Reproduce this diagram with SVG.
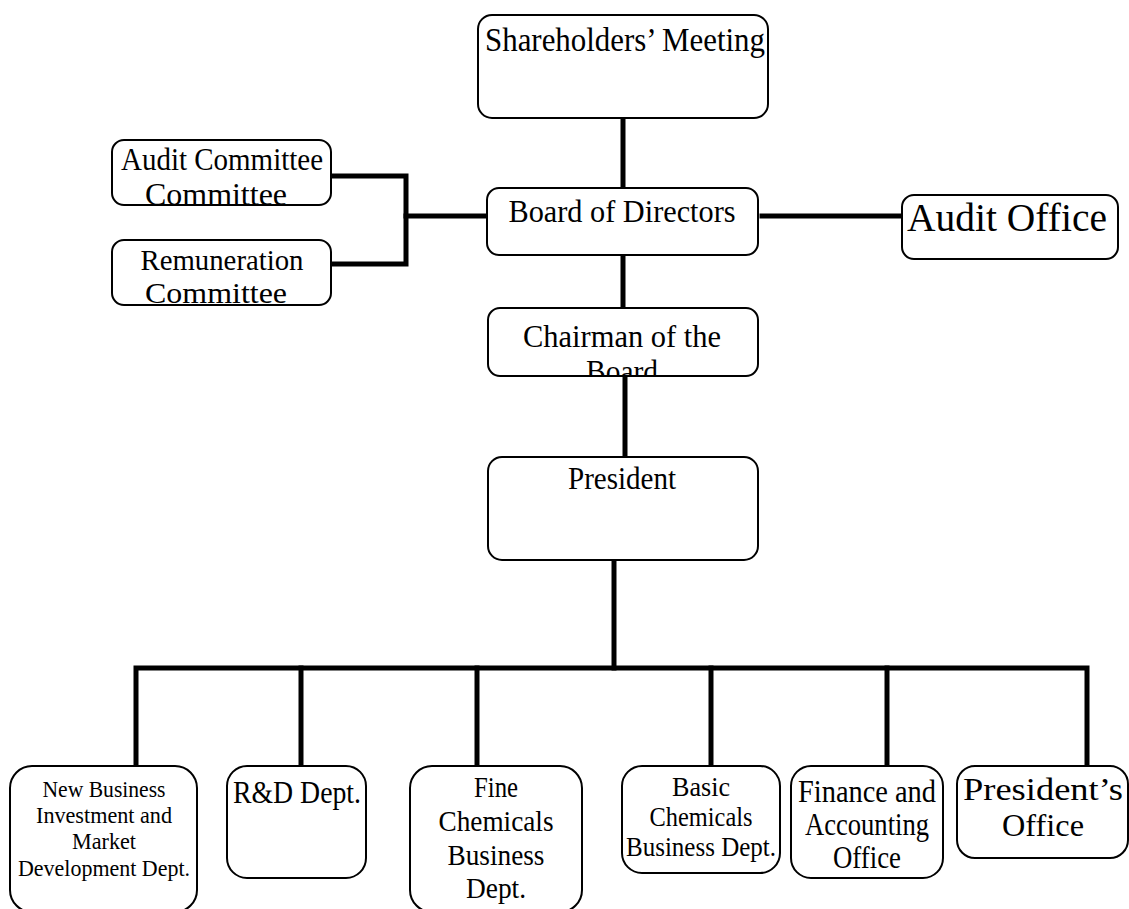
<svg xmlns="http://www.w3.org/2000/svg" width="1129" height="909" viewBox="0 0 1129 909">
<style>
.box{fill:#fff;stroke:#000;stroke-width:2}
.t{font-family:"Liberation Serif","Times New Roman",serif;fill:#000;text-anchor:middle}
.c{fill:none;stroke:#000;stroke-width:5;stroke-linecap:square}
</style>
<defs>
<clipPath id="clipAC"><rect x="112" y="140" width="219" height="64"/></clipPath>
<clipPath id="clipCH"><rect x="488" y="308" width="270" height="67"/></clipPath>
<clipPath id="clipRC"><rect x="112" y="240" width="219" height="64"/></clipPath>
</defs>
<g id="connectors">
<path class="c" d="M623 118V188"/>
<path class="c" d="M334 176H406V264H334"/>
<path class="c" d="M406 216H485"/>
<path class="c" d="M762 216H900"/>
<path class="c" d="M623 257V308"/>
<path class="c" d="M625 378V457"/>
<path class="c" d="M614 562V668"/>
<path class="c" d="M136 766V668H1087V766"/>
<path class="c" d="M301 668V766"/>
<path class="c" d="M477 668V766"/>
<path class="c" d="M711 668V766"/>
<path class="c" d="M887 668V766"/>
</g>
<g id="shareholders">
<rect class="box" x="478" y="15" width="290" height="103" rx="14"/>
<text class="t" x="625" y="51" font-size="33" textLength="280" lengthAdjust="spacingAndGlyphs">Shareholders’ Meeting</text>
</g>
<g id="audit-committee">
<rect class="box" x="112" y="140" width="219" height="65" rx="12"/>
<g clip-path="url(#clipAC)">
<text class="t" x="222" y="170" font-size="31" textLength="202" lengthAdjust="spacingAndGlyphs">Audit Committee</text>
<text class="t" x="216" y="205" font-size="31" textLength="142" lengthAdjust="spacingAndGlyphs">Committee</text>
</g>
</g>
<g id="remuneration-committee">
<rect class="box" x="112" y="240" width="219" height="65" rx="12"/>
<g clip-path="url(#clipRC)">
<text class="t" x="222" y="270" font-size="29" textLength="163" lengthAdjust="spacingAndGlyphs">Remuneration</text>
<text class="t" x="216" y="303" font-size="29" textLength="142" lengthAdjust="spacingAndGlyphs">Committee</text>
</g>
</g>
<g id="board">
<rect class="box" x="487" y="188" width="271" height="67" rx="12"/>
<text class="t" x="622" y="222" font-size="32" textLength="227" lengthAdjust="spacingAndGlyphs">Board of Directors</text>
</g>
<g id="audit-office">
<rect class="box" x="902" y="195" width="216" height="64" rx="12"/>
<text class="t" x="1007" y="231" font-size="41" textLength="200" lengthAdjust="spacingAndGlyphs">Audit Office</text>
</g>
<g id="chairman">
<rect class="box" x="488" y="308" width="270" height="68" rx="12"/>
<g clip-path="url(#clipCH)">
<text class="t" x="622" y="347" font-size="32" textLength="198" lengthAdjust="spacingAndGlyphs">Chairman of the</text>
<text class="t" x="622" y="382" font-size="32" textLength="72" lengthAdjust="spacingAndGlyphs">Board</text>
</g>
</g>
<g id="president">
<rect class="box" x="488" y="457" width="270" height="103" rx="14"/>
<text class="t" x="622" y="489" font-size="31" textLength="108" lengthAdjust="spacingAndGlyphs">President</text>
</g>
<g id="new-business">
<rect class="box" x="10" y="766" width="187" height="146" rx="22"/>
<text class="t" x="104" y="797" font-size="23" textLength="123" lengthAdjust="spacingAndGlyphs">New Business</text>
<text class="t" x="104" y="823" font-size="23" textLength="136" lengthAdjust="spacingAndGlyphs">Investment and</text>
<text class="t" x="104" y="849" font-size="23" textLength="64" lengthAdjust="spacingAndGlyphs">Market</text>
<text class="t" x="104" y="876" font-size="23" textLength="172" lengthAdjust="spacingAndGlyphs">Development Dept.</text>
</g>
<g id="rd">
<rect class="box" x="227" y="766" width="139" height="112" rx="20"/>
<text class="t" x="297" y="803" font-size="31" textLength="128" lengthAdjust="spacingAndGlyphs">R&amp;D Dept.</text>
</g>
<g id="fine-chemicals">
<rect class="box" x="410" y="766" width="172" height="146" rx="22"/>
<text class="t" x="496" y="797" font-size="29" textLength="44" lengthAdjust="spacingAndGlyphs">Fine</text>
<text class="t" x="496" y="831" font-size="29" textLength="115" lengthAdjust="spacingAndGlyphs">Chemicals</text>
<text class="t" x="496" y="865" font-size="29" textLength="97" lengthAdjust="spacingAndGlyphs">Business</text>
<text class="t" x="496" y="898" font-size="29" textLength="60" lengthAdjust="spacingAndGlyphs">Dept.</text>
</g>
<g id="basic-chemicals">
<rect class="box" x="622" y="766" width="158" height="107" rx="20"/>
<text class="t" x="701" y="796" font-size="27" textLength="58" lengthAdjust="spacingAndGlyphs">Basic</text>
<text class="t" x="701" y="826" font-size="27" textLength="103" lengthAdjust="spacingAndGlyphs">Chemicals</text>
<text class="t" x="701" y="856" font-size="27" textLength="150" lengthAdjust="spacingAndGlyphs">Business Dept.</text>
</g>
<g id="finance">
<rect class="box" x="791" y="766" width="152" height="112" rx="20"/>
<text class="t" x="867" y="802" font-size="31" textLength="138" lengthAdjust="spacingAndGlyphs">Finance and</text>
<text class="t" x="867" y="835" font-size="31" textLength="124" lengthAdjust="spacingAndGlyphs">Accounting</text>
<text class="t" x="867" y="868" font-size="31" textLength="68" lengthAdjust="spacingAndGlyphs">Office</text>
</g>
<g id="presidents-office">
<rect class="box" x="957" y="766" width="171" height="92" rx="18"/>
<text class="t" x="1043" y="800" font-size="31" textLength="160" lengthAdjust="spacingAndGlyphs">President’s</text>
<text class="t" x="1043" y="836" font-size="31" textLength="82" lengthAdjust="spacingAndGlyphs">Office</text>
</g>
</svg>
